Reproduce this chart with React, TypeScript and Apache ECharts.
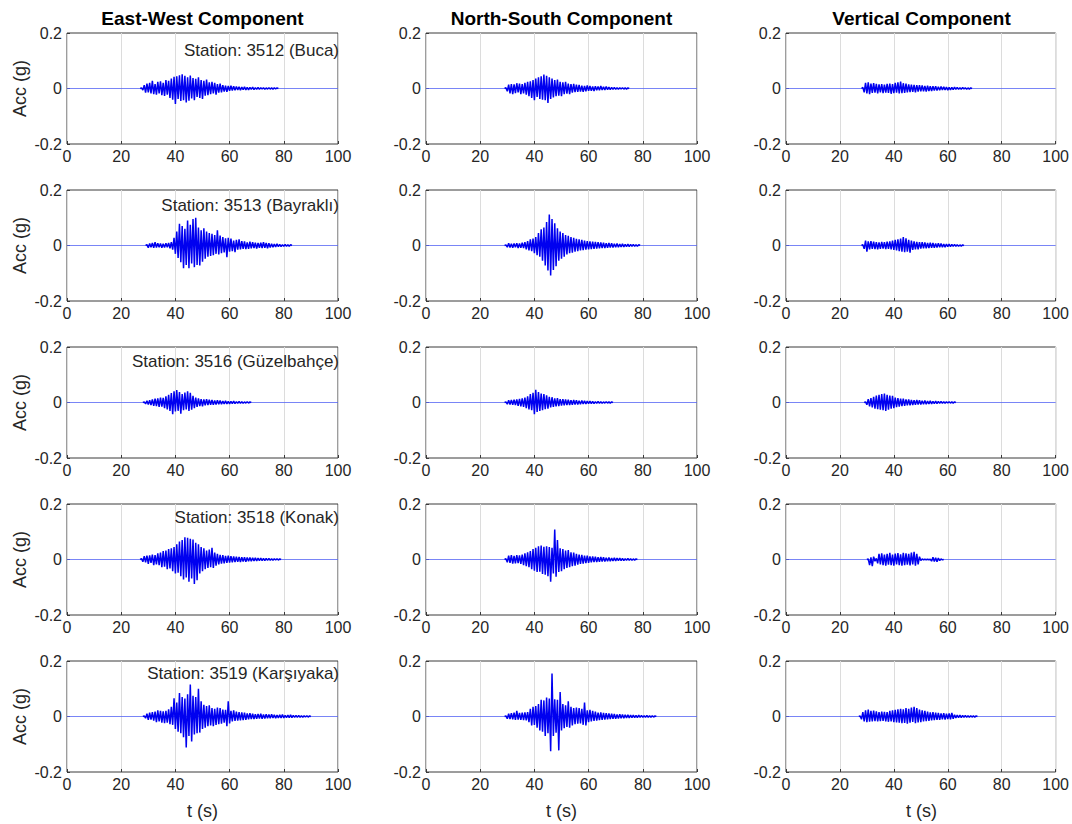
import React, { useEffect, useRef } from "react";
import * as echarts from "echarts";

// ---- Data (acceleration in milli-g, sampled every DT seconds from each record's start time) ----
const DT = 0.5;
const TIME_MIN = 0;
const TIME_MAX = 100;
const X_TICKS = [0, 20, 40, 60, 80, 100];
const Y_TICKS = [-0.2, 0, 0.2];

const components = ["East-West Component", "North-South Component", "Vertical Component"];
const stations = [
  "Station: 3512 (Buca)",
  "Station: 3513 (Bayraklı)",
  "Station: 3516 (Güzelbahçe)",
  "Station: 3518 (Konak)",
  "Station: 3519 (Karşıyaka)",
];

// Station 3512 (Buca)
const ew3512Start = 27.5;
const ew3512 = [2,-6,12,-15,18,-14,20,-18,28,-20,16,-22,24,-18,26,-24,20,-27,30,-22,28,-34,36,-40,42,-56,44,-38,48,-45,51,-42,46,-50,40,-44,47,-36,38,-42,35,-30,40,-34,30,-38,28,-26,32,-24,22,-20,24,-18,20,-22,16,-15,18,-14,12,-11,10,-12,9,-8,10,-7,8,-6,7,-5,6,-6,5,-4,6,-5,4,-5,4,-3,5,-4,3,-3,4,-3,3,-2,3,-3,2,-2,3,-2,2,-2,2,-1,2];
const ns3512Start = 29.5;
const ns3512 = [3,-10,14,-18,16,-20,15,-17,19,-14,18,-20,16,-18,20,-22,24,-28,26,-34,30,-42,36,-30,40,-38,44,-40,50,-42,46,-52,40,-38,36,-32,30,-28,32,-26,24,-28,22,-20,24,-19,18,-20,16,-15,17,-13,14,-12,13,-11,10,-12,9,-10,11,-8,9,-8,7,-9,8,-6,7,-6,9,-5,6,-5,7,-4,5,-4,4,-3,4,-3,3,-3,3,-2,3,-2,2,-2,2];
const v3512Start = 28.5;
const v3512 = [4,-14,20,-18,22,-20,18,-16,19,-15,17,-18,15,-14,16,-17,14,-15,17,-16,18,-19,16,-17,20,-15,22,-18,25,-17,19,-16,18,-14,15,-13,14,-12,13,-14,12,-11,12,-10,11,-10,9,-11,10,-9,8,-9,8,-7,8,-7,6,-6,7,-5,6,-5,5,-6,4,-5,4,-4,5,-3,4,-3,3,-3,4,-2,3,-3,2,-2,2];

// Station 3513 (Bayraklı)
const ew3513Start = 29.5;
const ew3513 = [3,-8,7,-6,9,-8,12,-7,8,-6,7,-8,6,-7,8,-6,9,-10,12,-15,28,-30,50,-45,78,-60,70,-82,60,-70,90,-82,75,-65,95,-78,100,-70,65,-72,55,-58,62,-48,50,-40,45,-38,42,-35,38,-30,55,-32,36,-28,30,-25,26,-42,28,-22,25,-20,18,-24,20,-15,22,-14,16,-12,15,-13,11,-12,14,-10,12,-9,10,-11,9,-8,10,-9,12,-8,9,-10,8,-7,6,-6,5,-5,6,-4,4,-4,3,-3,4,-3,3,-3,3];
const ns3513Start = 29.5;
const ns3513 = [2,-6,8,-7,6,-8,7,-6,8,-9,7,-8,10,-9,12,-14,16,-18,22,-20,25,-28,30,-35,45,-40,58,-55,65,-72,85,-90,112,-108,95,-88,80,-75,62,-55,50,-48,45,-40,38,-32,35,-28,30,-26,28,-22,24,-20,22,-18,20,-17,18,-15,16,-14,15,-13,14,-12,13,-11,12,-10,11,-9,10,-9,8,-8,9,-7,8,-7,6,-6,7,-6,5,-5,6,-5,4,-4,5,-4,4,-3,4,-3,3,-3,3];
const v3513Start = 28.5;
const v3513 = [3,-12,18,-22,15,-14,16,-12,14,-13,12,-14,11,-12,13,-11,12,-13,14,-12,15,-14,18,-16,20,-18,22,-20,25,-22,30,-24,26,-22,20,-26,18,-16,15,-14,13,-14,12,-11,12,-10,11,-10,9,-9,10,-8,9,-8,7,-7,8,-6,7,-6,5,-6,5,-4,5,-4,4,-3,4,-3,3,-3,2,-2,2];

// Station 3516 (Güzelbahçe)
const ew3516Start = 28.5;
const ew3516 = [2,-5,6,-7,8,-9,11,-12,14,-13,15,-16,18,-15,17,-20,22,-25,28,-30,34,-42,40,-32,45,-30,38,-40,30,-28,36,-25,40,-30,35,-26,24,-20,18,-16,15,-13,12,-14,11,-10,12,-9,10,-8,9,-8,7,-7,8,-6,7,-6,5,-5,6,-5,4,-5,4,-4,5,-4,3,-3,4,-3,3,-3,2,-2,3,-2,2];
const ns3516Start = 29.5;
const ns3516 = [2,-6,8,-7,9,-8,10,-9,11,-12,13,-14,15,-16,18,-20,22,-25,30,-28,35,-42,46,-34,38,-30,32,-28,30,-24,26,-22,20,-18,19,-16,15,-14,16,-13,12,-11,12,-10,11,-9,10,-9,8,-8,9,-7,8,-7,6,-6,7,-5,6,-5,5,-4,5,-4,4,-4,3,-3,4,-3,3,-3,2,-2,3,-2,2,-2,2];
const v3516Start = 29.5;
const v3516 = [2,-8,12,-14,16,-18,20,-22,25,-24,28,-26,30,-28,32,-30,28,-26,25,-22,24,-20,18,-17,16,-15,14,-13,14,-12,11,-10,11,-10,9,-9,8,-8,9,-7,8,-7,6,-6,7,-6,5,-5,6,-5,4,-4,5,-4,4,-3,4,-3,3,-3,3,-2,3,-2,2,-2,2];

// Station 3518 (Konak)
const ew3518Start = 27.5;
const ew3518 = [3,-8,12,-10,14,-16,15,-12,18,-20,16,-18,22,-20,25,-28,30,-26,32,-35,38,-32,40,-42,45,-50,55,-48,65,-60,70,-72,80,-65,78,-80,75,-68,72,-88,60,-75,55,-50,45,-42,40,-35,32,-30,36,-28,42,-30,25,-22,20,-18,17,-15,16,-14,13,-12,14,-11,12,-10,11,-9,10,-8,9,-9,8,-7,8,-8,7,-6,7,-6,6,-5,6,-5,5,-4,5,-4,4,-4,4,-3,4,-3,3,-3,3,-2,3,-2,2];
const ns3518Start = 29.5;
const ns3518 = [3,-10,14,-12,16,-15,13,-14,16,-13,15,-16,18,-20,22,-24,26,-28,30,-35,38,-40,42,-45,48,-44,50,-52,46,-55,48,-60,45,-80,42,-50,108,-62,70,-45,40,-42,38,-35,32,-30,34,-28,26,-24,25,-22,20,-19,18,-16,17,-15,14,-13,14,-12,11,-10,11,-9,10,-9,8,-8,9,-7,8,-7,6,-6,7,-6,5,-5,6,-5,5,-4,5,-4,4,-4,3,-3,4,-3,3,-3,2,-2,2];
const v3518Start = 30.5;
const v3518 = [2,-20,8,-24,10,-6,4,-14,20,-18,22,-20,18,-22,20,-19,24,-20,18,-22,21,-18,23,-20,19,-22,24,-20,22,-19,20,-21,25,-18,28,-22,20,-18,10,-4,2,-1,1,-1,1,-1,1,-6,8,-7,6,-8,5,-4,2,-1];

// Station 3519 (Karşıyaka)
const ew3519Start = 28.5;
const ew3519 = [2,-6,10,-12,14,-11,16,-15,18,-20,22,-18,20,-22,19,-24,20,-22,26,-28,35,-30,66,-45,50,-55,85,-60,70,-75,65,-112,80,-70,115,-90,75,-65,70,-60,100,-58,55,-45,42,-40,38,-35,40,-32,30,-35,28,-30,32,-28,30,-26,25,-22,24,-35,55,-25,20,-18,22,-16,18,-15,16,-14,15,-13,14,-12,11,-10,12,-9,10,-9,8,-8,9,-7,10,-8,7,-7,8,-6,7,-6,8,-5,6,-6,5,-5,6,-5,7,-5,4,-4,5,-4,6,-4,4,-3,4,-3,4,-3,3,-3,3,-2,3,-2,2];
const ns3519Start = 29.5;
const ns3519 = [2,-8,10,-9,12,-10,14,-12,20,-11,13,-12,14,-13,15,-14,16,-20,28,-32,35,-30,38,-40,45,-50,60,-55,58,-70,68,-60,65,-125,155,-70,62,-58,60,-122,88,-50,45,-42,40,-38,55,-40,35,-32,30,-28,32,-26,30,-25,28,-30,50,-32,22,-20,24,-18,20,-16,18,-15,14,-13,15,-12,13,-11,12,-10,11,-9,10,-8,9,-8,7,-7,8,-6,7,-6,6,-5,6,-5,5,-4,5,-4,4,-4,5,-3,4,-3,3,-3,4,-3,3,-3,3,-2,2];
const v3519Start = 27.5;
const v3519 = [2,-10,16,-18,22,-20,25,-19,20,-18,21,-17,19,-18,16,-17,18,-16,17,-18,16,-19,20,-18,22,-20,24,-21,26,-22,28,-24,26,-23,30,-26,28,-22,32,-20,35,-24,30,-21,25,-20,22,-18,20,-17,18,-16,15,-14,16,-13,14,-12,13,-12,11,-10,12,-11,10,-9,11,-10,13,-8,6,-5,5,-4,5,-4,4,-3,4,-3,3,-3,3,-2,2,-2,2];

const records: [number, number[]][][] = [
  [[ew3512Start, ew3512], [ns3512Start, ns3512], [v3512Start, v3512]],
  [[ew3513Start, ew3513], [ns3513Start, ns3513], [v3513Start, v3513]],
  [[ew3516Start, ew3516], [ns3516Start, ns3516], [v3516Start, v3516]],
  [[ew3518Start, ew3518], [ns3518Start, ns3518], [v3518Start, v3518]],
  [[ew3519Start, ew3519], [ns3519Start, ns3519], [v3519Start, v3519]],
];

function toSeriesData(start: number, vals: number[]): [number, number][] {
  const pts: [number, number][] = [[start - DT, 0]];
  vals.forEach((v, i) => pts.push([start + i * DT, v / 1000]));
  pts.push([start + vals.length * DT, 0]);
  return pts;
}

// ---- Layout ----
const W = 1072;
const H = 824;
const COL_LEFT = [67, 426, 786];
const PLOT_W = 271;
const ROW_TOP0 = 33;
const ROW_STEP = 157;
const PLOT_H = 111;
const STATION_OFFSET = [17, 15, 14, 13, 12];
const FONT = "'Liberation Sans', Arial, Helvetica, sans-serif";
const TEXT = "#262626";

export default function App() {
  const ref = useRef<HTMLDivElement>(null);

  useEffect(() => {
    if (!ref.current) return;
    const chart = echarts.init(ref.current, undefined, { renderer: "svg" });

    const grids: any[] = [];
    const xAxes: any[] = [];
    const yAxes: any[] = [];
    const series: any[] = [];
    const graphics: any[] = [];

    records.forEach((row, r) => {
      row.forEach(([start, vals], c) => {
        const idx = grids.length;
        const top = ROW_TOP0 + r * ROW_STEP;
        grids.push({
          left: COL_LEFT[c],
          top,
          width: PLOT_W,
          height: PLOT_H,
          show: true,
          borderColor: "#3a3a3a",
          borderWidth: 1,
          backgroundColor: "#ffffff",
        });
        xAxes.push({
          type: "value",
          gridIndex: idx,
          position: "bottom",
          min: TIME_MIN,
          max: TIME_MAX,
          interval: X_TICKS[1] - X_TICKS[0],
          axisLine: { show: false, onZero: false },
          axisTick: { show: true, inside: true, length: 3, lineStyle: { color: "#3a3a3a" } },
          splitLine: { show: true, lineStyle: { color: "#dcdcdc", width: 1 } },
          axisLabel: { color: TEXT, fontSize: 16, fontFamily: FONT, margin: 4 },
        });
        yAxes.push({
          type: "value",
          gridIndex: idx,
          position: "left",
          min: Y_TICKS[0],
          max: Y_TICKS[Y_TICKS.length - 1],
          interval: Y_TICKS[1] - Y_TICKS[0],
          axisLine: { show: false, onZero: false },
          axisTick: { show: true, inside: true, length: 3, lineStyle: { color: "#3a3a3a" } },
          splitLine: { show: false },
          axisLabel: {
            color: TEXT,
            fontSize: 16,
            fontFamily: FONT,
            margin: 5,
            formatter: (v: number) => (Math.abs(v) < 1e-9 ? "0" : String(Math.round(v * 10) / 10)),
          },
        });
        // quiet baseline over the whole record
        series.push({
          type: "line",
          xAxisIndex: idx,
          yAxisIndex: idx,
          data: [[TIME_MIN, 0], [TIME_MAX, 0]],
          showSymbol: false,
          symbol: "none",
          lineStyle: { color: "#5866f4", width: 1, opacity: 0.8 },
          silent: true,
          z: 2,
        });
        // strong-motion part
        series.push({
          type: "line",
          xAxisIndex: idx,
          yAxisIndex: idx,
          data: toSeriesData(start, vals),
          showSymbol: false,
          symbol: "none",
          lineStyle: { color: "#0000f0", width: 1.5 },
          silent: true,
          z: 3,
        });
      });

      const top = ROW_TOP0 + r * ROW_STEP;
      graphics.push({
        type: "text",
        x: COL_LEFT[0] + PLOT_W + 1,
        y: top + STATION_OFFSET[r],
        z: 10,
        style: {
          text: stations[r],
          fill: TEXT,
          font: `17px ${FONT}`,
          textAlign: "right",
          textVerticalAlign: "middle",
        },
      });
      graphics.push({
        type: "text",
        x: 20,
        y: top + PLOT_H / 2,
        rotation: Math.PI / 2,
        style: {
          text: "Acc (g)",
          fill: TEXT,
          font: `18px ${FONT}`,
          textAlign: "center",
          textVerticalAlign: "middle",
        },
      });
    });

    components.forEach((name, c) => {
      graphics.push({
        type: "text",
        x: COL_LEFT[c] + PLOT_W / 2,
        y: 18,
        style: {
          text: name,
          fill: "#000000",
          font: `bold 19px ${FONT}`,
          textAlign: "center",
          textVerticalAlign: "middle",
        },
      });
      graphics.push({
        type: "text",
        x: COL_LEFT[c] + PLOT_W / 2,
        y: 811,
        style: {
          text: "t (s)",
          fill: TEXT,
          font: `18px ${FONT}`,
          textAlign: "center",
          textVerticalAlign: "middle",
        },
      });
    });

    chart.setOption({
      animation: false,
      backgroundColor: "#ffffff",
      grid: grids,
      xAxis: xAxes,
      yAxis: yAxes,
      series,
      graphic: graphics,
    });

    return () => chart.dispose();
  }, []);

  return (
    <div
      ref={ref}
      style={{ position: "fixed", left: 0, top: 0, width: W, height: H, background: "#fff" }}
    />
  );
}
